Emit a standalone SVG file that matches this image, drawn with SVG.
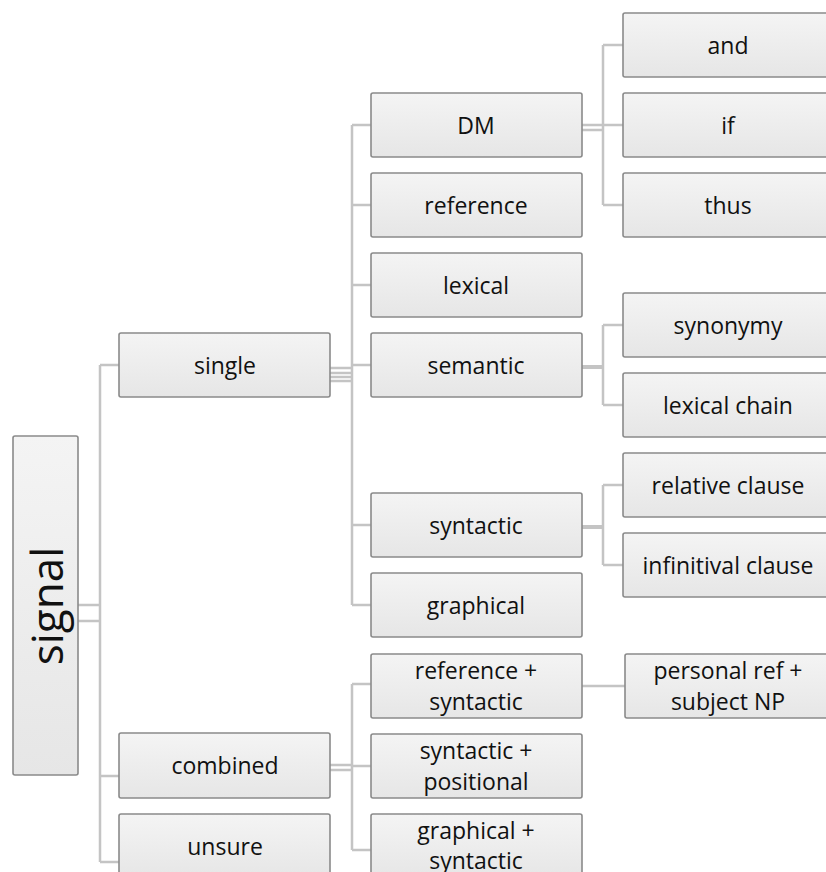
<svg xmlns="http://www.w3.org/2000/svg" width="826" height="872" viewBox="0 0 826 872">
<defs>
<linearGradient id="g" x1="0" y1="0" x2="0" y2="1">
<stop offset="0" stop-color="#f4f4f4"/>
<stop offset="1" stop-color="#e6e6e6"/>
</linearGradient>
</defs>
<style>
.b{fill:url(#g);stroke:#8a8a8a;stroke-width:1.6}
.t{font-family:"Open Sans","Liberation Sans",sans-serif;font-size:23px;fill:#111;text-anchor:middle;dominant-baseline:central}
.c{stroke:#c4c4c4;stroke-width:2.5;fill:none}
</style>
<rect width="826" height="872" fill="#fff"/>
<g id="connectors">
<path class="c" d="M78 605H100M78 621H100M100 365V862M100 365H119M100 776H119M100 862H119"/>
<path class="c" d="M330 368H352M330 373H352M330 377H352M330 381H352M352 125V605M352 125H371M352 205H371M352 285H371M352 365H371M352 525H371M352 605H371"/>
<path class="c" d="M330 765H352M330 770H352M352 684V850M352 684H371M352 766H371M352 850H371M582 686H625"/>
<path class="c" d="M582 125H603M582 130H603M603 45V205M603 45H623M603 125H623M603 205H623"/>
<path class="c" d="M582 367H603" style="stroke-width:4"/>
<path class="c" d="M603 325V405M603 325H623M603 405H623"/>
<path class="c" d="M582 527H603" style="stroke-width:4"/>
<path class="c" d="M603 485V565M603 485H623M603 565H623"/>
</g>
<g id="signal"><rect class="b" x="13" y="436" width="65" height="339" rx="2"/><text class="t" transform="translate(46 606) rotate(-90)" style="font-size:44px">signal</text></g>
<g id="single"><rect class="b" x="119" y="333" width="211" height="64" rx="2"/><text class="t" x="225" y="365">single</text></g>
<g id="combined"><rect class="b" x="119" y="733" width="211" height="65" rx="2"/><text class="t" x="225" y="765">combined</text></g>
<g id="unsure"><rect class="b" x="119" y="814" width="211" height="64" rx="2"/><text class="t" x="225" y="846">unsure</text></g>
<g id="dm"><rect class="b" x="371" y="93" width="211" height="64" rx="2"/><text class="t" x="476" y="125">DM</text></g>
<g id="reference"><rect class="b" x="371" y="173" width="211" height="64" rx="2"/><text class="t" x="476" y="205">reference</text></g>
<g id="lexical"><rect class="b" x="371" y="253" width="211" height="64" rx="2"/><text class="t" x="476" y="285">lexical</text></g>
<g id="semantic"><rect class="b" x="371" y="333" width="211" height="64" rx="2"/><text class="t" x="476" y="365">semantic</text></g>
<g id="syntactic"><rect class="b" x="371" y="493" width="211" height="64" rx="2"/><text class="t" x="476" y="525">syntactic</text></g>
<g id="graphical"><rect class="b" x="371" y="573" width="211" height="64" rx="2"/><text class="t" x="476" y="605">graphical</text></g>
<g id="ref-syn"><rect class="b" x="371" y="654" width="211" height="64" rx="2"/><text class="t" x="476" y="670">reference +</text><text class="t" x="476" y="701">syntactic</text></g>
<g id="syn-pos"><rect class="b" x="371" y="734" width="211" height="64" rx="2"/><text class="t" x="476" y="750">syntactic +</text><text class="t" x="476" y="781">positional</text></g>
<g id="gra-syn"><rect class="b" x="371" y="814" width="211" height="64" rx="2"/><text class="t" x="476" y="830">graphical +</text><text class="t" x="476" y="860">syntactic</text></g>
<g id="and"><rect class="b" x="623" y="13" width="211" height="64" rx="2"/><text class="t" x="728" y="45">and</text></g>
<g id="if"><rect class="b" x="623" y="93" width="211" height="64" rx="2"/><text class="t" x="728" y="125">if</text></g>
<g id="thus"><rect class="b" x="623" y="173" width="211" height="64" rx="2"/><text class="t" x="728" y="205">thus</text></g>
<g id="synonymy"><rect class="b" x="623" y="293" width="211" height="64" rx="2"/><text class="t" x="728" y="325">synonymy</text></g>
<g id="lexical-chain"><rect class="b" x="623" y="373" width="211" height="64" rx="2"/><text class="t" x="728" y="405">lexical chain</text></g>
<g id="relative-clause"><rect class="b" x="623" y="453" width="211" height="64" rx="2"/><text class="t" x="728" y="485">relative clause</text></g>
<g id="infinitival-clause"><rect class="b" x="623" y="533" width="211" height="64" rx="2"/><text class="t" x="728" y="565">infinitival clause</text></g>
<g id="personal-ref"><rect class="b" x="625" y="654" width="211" height="64" rx="2"/><text class="t" x="728" y="670">personal ref +</text><text class="t" x="728" y="701">subject NP</text></g>
</svg>
